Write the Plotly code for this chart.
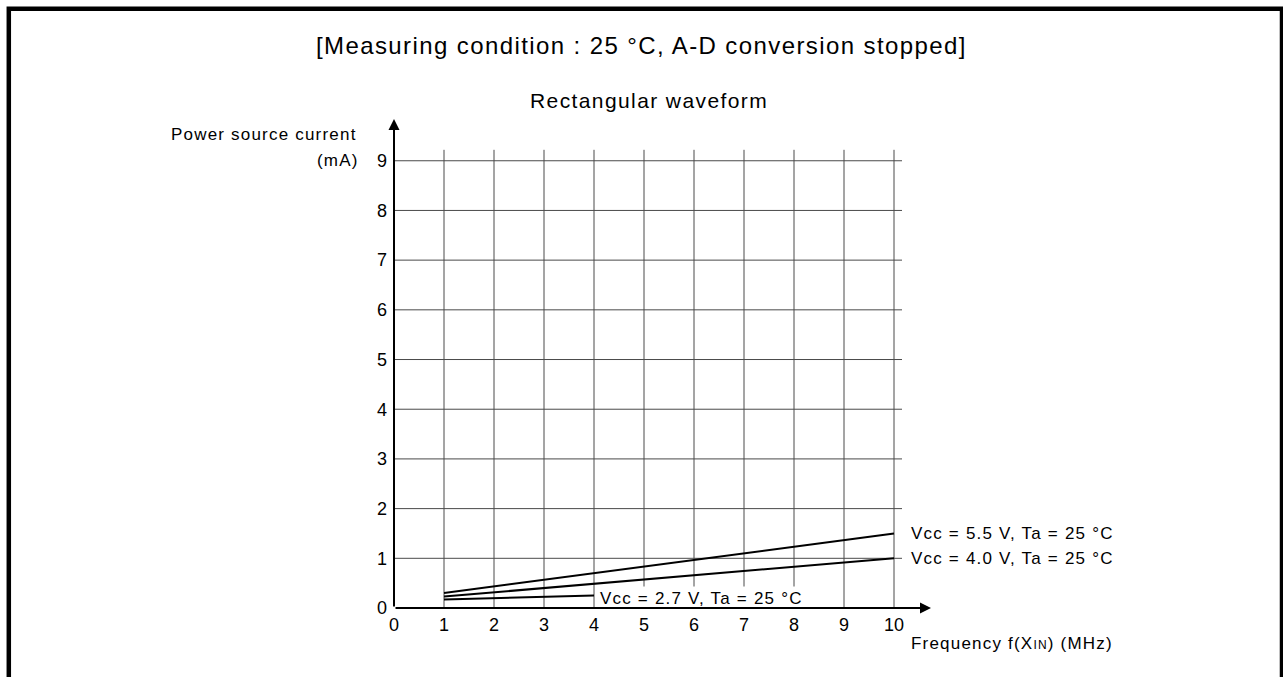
import plotly.graph_objects as go

# ---- data ----
freq_55 = [1, 10]
cur_55 = [0.30, 1.50]
freq_40 = [1, 10]
cur_40 = [0.23, 1.00]
freq_27 = [1, 4]
cur_27 = [0.17, 0.25]

x_ticks = [0, 1, 2, 3, 4, 5, 6, 7, 8, 9, 10]
y_ticks = [0, 1, 2, 3, 4, 5, 6, 7, 8, 9]

series_labels = ["Vcc = 5.5 V, Ta = 25 °C", "Vcc = 4.0 V, Ta = 25 °C", "Vcc = 2.7 V, Ta = 25 °C"]
title_text = "[Measuring condition : 25 °C, A-D conversion stopped]"
subtitle_text = "Rectangular waveform"
y_label_1 = "Power source current"
y_label_2 = "(mA)"

# ---- layout geometry (pixels) ----
W, H = 1283, 677
L, R, T, B = 394, 1283 - 934, 121, 677 - 608
XR = [0, 10.8]
YR = [0, 9.8]
PW, PH = W - L - R, H - T - B


def px2paper_x(px):
    return (px - L) / PW


def px2paper_y(py):
    return (H - B - py) / PH


def dx(v):
    return (v - XR[0]) / (XR[1] - XR[0])


def dy(v):
    return (v - YR[0]) / (YR[1] - YR[0])


FONT = "Liberation Sans, Arial, sans-serif"


def ls(text, sp):
    return f'<span style="letter-spacing:{sp}px">{text}</span>'


fig = go.Figure()

for xs, ys in [(freq_55, cur_55), (freq_40, cur_40), (freq_27, cur_27)]:
    fig.add_trace(go.Scatter(x=xs, y=ys, mode="lines",
                             line=dict(color="black", width=2),
                             showlegend=False, hoverinfo="skip"))

shapes = []
# grid lines
for xv in x_ticks[1:]:
    shapes.append(dict(type="line", xref="x", yref="y", x0=xv, x1=xv, y0=0, y1=9.22,
                       line=dict(color="#4a4a4a", width=1), layer="below"))
for yv in y_ticks[1:]:
    shapes.append(dict(type="line", xref="x", yref="y", x0=0, x1=10.16, y0=yv, y1=yv,
                       line=dict(color="#4a4a4a", width=1), layer="below"))
# outer frame
shapes.append(dict(type="rect", xref="paper", yref="paper",
                   x0=px2paper_x(8.8), x1=px2paper_x(1282), y0=px2paper_y(700), y1=px2paper_y(8.8),
                   line=dict(color="black", width=4.5), fillcolor="rgba(0,0,0,0)", layer="above"))

TXT = dict(family=FONT, size=17, color="black")
annotations = []
annotations.append(dict(x=dx(4.95), y=dy(11.32), xref="paper", yref="paper", text=ls(title_text, 1.4),
                        showarrow=False, xanchor="center", yanchor="middle",
                        font=dict(family=FONT, size=24, color="black")))
annotations.append(dict(x=dx(5.09), y=dy(10.22), xref="paper", yref="paper", text=ls(subtitle_text, 1.4),
                        showarrow=False, xanchor="center", yanchor="middle",
                        font=dict(family=FONT, size=21, color="black")))
annotations.append(dict(x=dx(-0.7), y=dy(9.52), xref="paper", yref="paper", text=ls(y_label_1, 1.2),
                        showarrow=False, xanchor="right", yanchor="middle", font=TXT))
annotations.append(dict(x=dx(-0.67), y=dy(9.0), xref="paper", yref="paper", text=ls(y_label_2, 1.2),
                        showarrow=False, xanchor="right", yanchor="middle", font=TXT))
annotations.append(dict(x=dx(10.3), y=dy(-0.71), xref="paper", yref="paper",
                        text=ls('Frequency f(X<span style="font-size:12px">IN</span>) (MHz)', 1.2),
                        showarrow=False, xanchor="left", yanchor="middle", font=TXT))
annotations.append(dict(x=dx(10.3), y=dy(cur_55[-1]), xref="paper", yref="paper", text=ls(series_labels[0], 1.2),
                        showarrow=False, xanchor="left", yanchor="middle", font=TXT))
annotations.append(dict(x=dx(10.3), y=dy(cur_40[-1]), xref="paper", yref="paper", text=ls(series_labels[1], 1.2),
                        showarrow=False, xanchor="left", yanchor="middle", font=TXT))
annotations.append(dict(x=4.06, y=0.2, xref="x", yref="y", text=ls(series_labels[2], 1.2),
                        showarrow=False, xanchor="left", yanchor="middle", bgcolor="white", borderpad=2,
                        font=TXT))
# axes with arrows
annotations.append(dict(x=10.74, y=0, ax=0, ay=0, xref="x", yref="y", axref="x", ayref="y",
                        text="", showarrow=True, arrowhead=2, arrowwidth=2, arrowsize=1.1,
                        arrowcolor="black"))
annotations.append(dict(x=0, y=9.84, ax=0, ay=0, xref="x", yref="y", axref="x", ayref="y",
                        text="", showarrow=True, arrowhead=2, arrowwidth=2, arrowsize=1.1,
                        arrowcolor="black"))

fig.update_layout(
    width=W, height=H,
    margin=dict(l=L, r=R, t=T, b=B, pad=0),
    paper_bgcolor="white", plot_bgcolor="white",
    shapes=shapes, annotations=annotations,
    xaxis=dict(range=XR, tickvals=x_ticks, ticktext=[str(v) for v in x_ticks],
               showgrid=False, zeroline=False, showline=False, ticks="", ticklabelstandoff=4,
               tickfont=dict(family=FONT, size=18, color="black"), fixedrange=True),
    yaxis=dict(range=YR, tickvals=y_ticks, ticktext=[str(v) for v in y_ticks],
               showgrid=False, zeroline=False, showline=False, ticks="", ticklabelstandoff=6,
               tickfont=dict(family=FONT, size=18, color="black"), fixedrange=True),
)

fig.write_html("out.html", config={"displayModeBar": False},
               post_script="document.body.style.margin='0';document.body.style.overflow='hidden';")
